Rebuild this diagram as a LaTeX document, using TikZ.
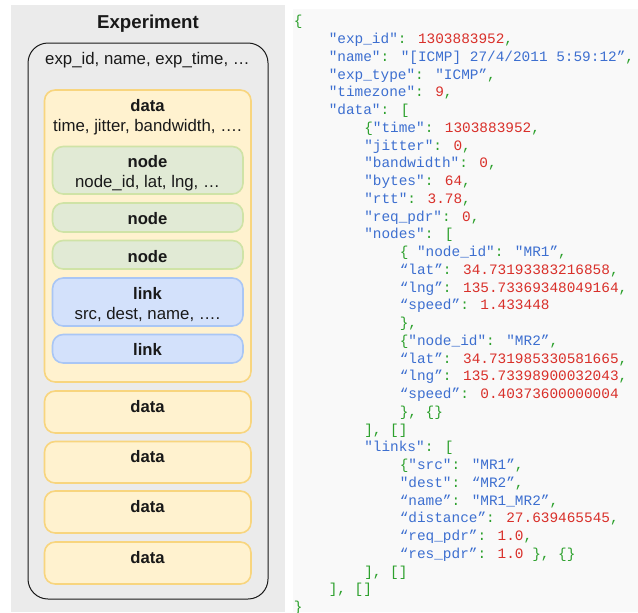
\documentclass[tikz,border=0pt]{standalone}
\usepackage{fontspec}
\setmainfont{Liberation Sans}
\newfontfamily\codefont{Liberation Mono}
\definecolor{jkey}{HTML}{3D6FD0}
\definecolor{jval}{HTML}{D9302A}
\definecolor{jpun}{HTML}{2CA02C}
\newcommand{\jk}[1]{\textcolor{jkey}{#1}}
\newcommand{\jv}[1]{\textcolor{jval}{#1}}
\newcommand{\jp}[1]{\textcolor{jpun}{#1}}
\definecolor{yfill}{HTML}{FFF2CF}
\definecolor{yline}{HTML}{F8D57E}
\definecolor{gfill}{HTML}{E1EAD5}
\definecolor{gline}{HTML}{CFE3A6}
\definecolor{bfill}{HTML}{D3E1FB}
\definecolor{bline}{HTML}{A9C6F5}
\tikzset{
  lab/.style={anchor=base,inner sep=0pt,font=\fontsize{12.6}{14}\selectfont,text=black!90},
  labb/.style={lab,font=\fontsize{12.5}{14}\selectfont\bfseries},
  titlelab/.style={lab,font=\fontsize{14}{16}\selectfont\bfseries},
  code/.style={anchor=base west,inner sep=0pt,font=\fontsize{10.8}{12}\codefont},
  ybox/.style={draw=yline,fill=yfill,line width=1.2pt,rounded corners=8pt},
  gbox/.style={draw=gline,fill=gfill,line width=1.2pt,rounded corners=8pt},
  bbox/.style={draw=bline,fill=bfill,line width=1.2pt,rounded corners=8pt},
}
\begin{document}
\begin{tikzpicture}[x=0.75pt,y=-0.75pt]
\useasboundingbox (0,0) rectangle (638,612);
\fill[white] (0,0) rectangle (638,612);
\fill[black!8] (11,5) rectangle (285,612);
\fill[black!2.5] (293,9) rectangle (638,612);
\draw[black!90,line width=0.75pt,rounded corners=15pt] (28,43) rectangle (268,599);
\draw[ybox] (44.5,90) rectangle (251,382);
\draw[gbox] (52.5,146.5) rectangle (243,194);
\draw[gbox] (52.5,203) rectangle (243,232);
\draw[gbox] (52.5,240.5) rectangle (243,269);
\draw[bbox] (52.5,278) rectangle (243,326);
\draw[bbox] (52.5,334.5) rectangle (243,363);
\draw[ybox] (44.5,391) rectangle (251,433);
\draw[ybox] (44.5,441.5) rectangle (251,483);
\draw[ybox] (44.5,491) rectangle (251,533);
\draw[ybox] (44.5,542) rectangle (251,584);
\node[titlelab] (title) at (148,28) {Experiment};
\node[lab] (expf) at (147.5,64) {exp\_id, name, exp\_time, …};
\node[labb] (d1) at (147.5,111) {data};
\node[lab] (d1f) at (147.5,131) {time, jitter, bandwidth, ….};
\node[labb] (n1) at (147.5,167) {node};
\node[lab] (n1f) at (147.5,187) {node\_id, lat, lng, …};
\node[labb] (n2) at (147.5,224) {node};
\node[labb] (n3) at (147.5,262) {node};
\node[labb] (l1) at (147.5,299) {link};
\node[lab] (l1f) at (147.5,319) {src, dest, name, ….};
\node[labb] (l2) at (147.5,355) {link};
\node[labb] (d2) at (147.5,412) {data};
\node[labb] (d3) at (147.5,462) {data};
\node[labb] (d4) at (147.5,512) {data};
\node[labb] (d5) at (147.5,563) {data};
\def\xa{293.5}\def\xb{328.5}\def\xc{364}\def\xd{399.5}
\node[code] (c01) at (\xa,25.5) {\jp{\{}};
\node[code] (c02) at (\xb,43) {\jk{"exp\_id"}\jp{:} \jv{1303883952}\jp{,}};
\node[code] (c03) at (\xb,61) {\jk{"name"}\jp{:} \jk{"[ICMP] 27/4/2011 5:59:12”}\jp{,}};
\node[code] (c04) at (\xb,79) {\jk{"exp\_type"}\jp{:} \jk{"ICMP”}\jp{,}};
\node[code] (c05) at (\xb,96.5) {\jk{"timezone"}\jp{:} \jv{9}\jp{,}};
\node[code] (c06) at (\xb,114) {\jk{"data"}\jp{:} \jp{[}};
\node[code] (c07) at (\xc,132) {\jp{\{}\jk{"time"}\jp{:} \jv{1303883952}\jp{,}};
\node[code] (c08) at (\xc,150) {\jk{"jitter"}\jp{:} \jv{0}\jp{,}};
\node[code] (c09) at (\xc,167.5) {\jk{"bandwidth"}\jp{:} \jv{0}\jp{,}};
\node[code] (c10) at (\xc,185) {\jk{"bytes"}\jp{:} \jv{64}\jp{,}};
\node[code] (c11) at (\xc,203) {\jk{"rtt"}\jp{:} \jv{3.78}\jp{,}};
\node[code] (c12) at (\xc,221) {\jk{"req\_pdr"}\jp{:} \jv{0}\jp{,}};
\node[code] (c13) at (\xc,238.5) {\jk{"nodes"}\jp{:} \jp{[}};
\node[code] (c14) at (\xd,256) {\jp{\{} \jk{"node\_id"}\jp{:} \jk{"MR1”}\jp{,}};
\node[code] (c15) at (\xd,274) {\jk{“lat”}\jp{:} \jv{34.73193383216858}\jp{,}};
\node[code] (c16) at (\xd,292) {\jk{“lng”}\jp{:} \jv{135.73369348049164}\jp{,}};
\node[code] (c17) at (\xd,309.5) {\jk{“speed”}\jp{:} \jv{1.433448}};
\node[code] (c18) at (\xd,327) {\jp{\}}\jp{,}};
\node[code] (c19) at (\xd,345) {\jp{\{}\jk{"node\_id"}\jp{:} \jk{"MR2”}\jp{,}};
\node[code] (c20) at (\xd,363) {\jk{“lat”}\jp{:} \jv{34.731985330581665}\jp{,}};
\node[code] (c21) at (\xd,380.5) {\jk{“lng”}\jp{:} \jv{135.73398900032043}\jp{,}};
\node[code] (c22) at (\xd,398) {\jk{“speed”}\jp{:} \jv{0.40373600000004}};
\node[code] (c23) at (\xd,416) {\jp{\}, \{\}}};
\node[code] (c24) at (\xc,434) {\jp{], []}};
\node[code] (c25) at (\xc,451.5) {\jk{"links"}\jp{:} \jp{[}};
\node[code] (c26) at (\xd,469) {\jp{\{}\jk{"src"}\jp{:} \jk{"MR1”}\jp{,}};
\node[code] (c27) at (\xd,487) {\jk{"dest"}\jp{:} \jk{“MR2”}\jp{,}};
\node[code] (c28) at (\xd,505) {\jk{“name”}\jp{:} \jk{"MR1\_MR2”}\jp{,}};
\node[code] (c29) at (\xd,522.5) {\jk{“distance”}\jp{:} \jv{27.639465545}\jp{,}};
\node[code] (c30) at (\xd,540) {\jk{“req\_pdr”}\jp{:} \jv{1.0}\jp{,}};
\node[code] (c31) at (\xd,558) {\jk{“res\_pdr”}\jp{:} \jv{1.0} \jp{\}, \{\}}};
\node[code] (c32) at (\xc,576) {\jp{], []}};
\node[code] (c33) at (\xb,593.5) {\jp{], []}};
\node[code] (c34) at (\xa,611) {\jp{\}}};
\end{tikzpicture}
\end{document}
